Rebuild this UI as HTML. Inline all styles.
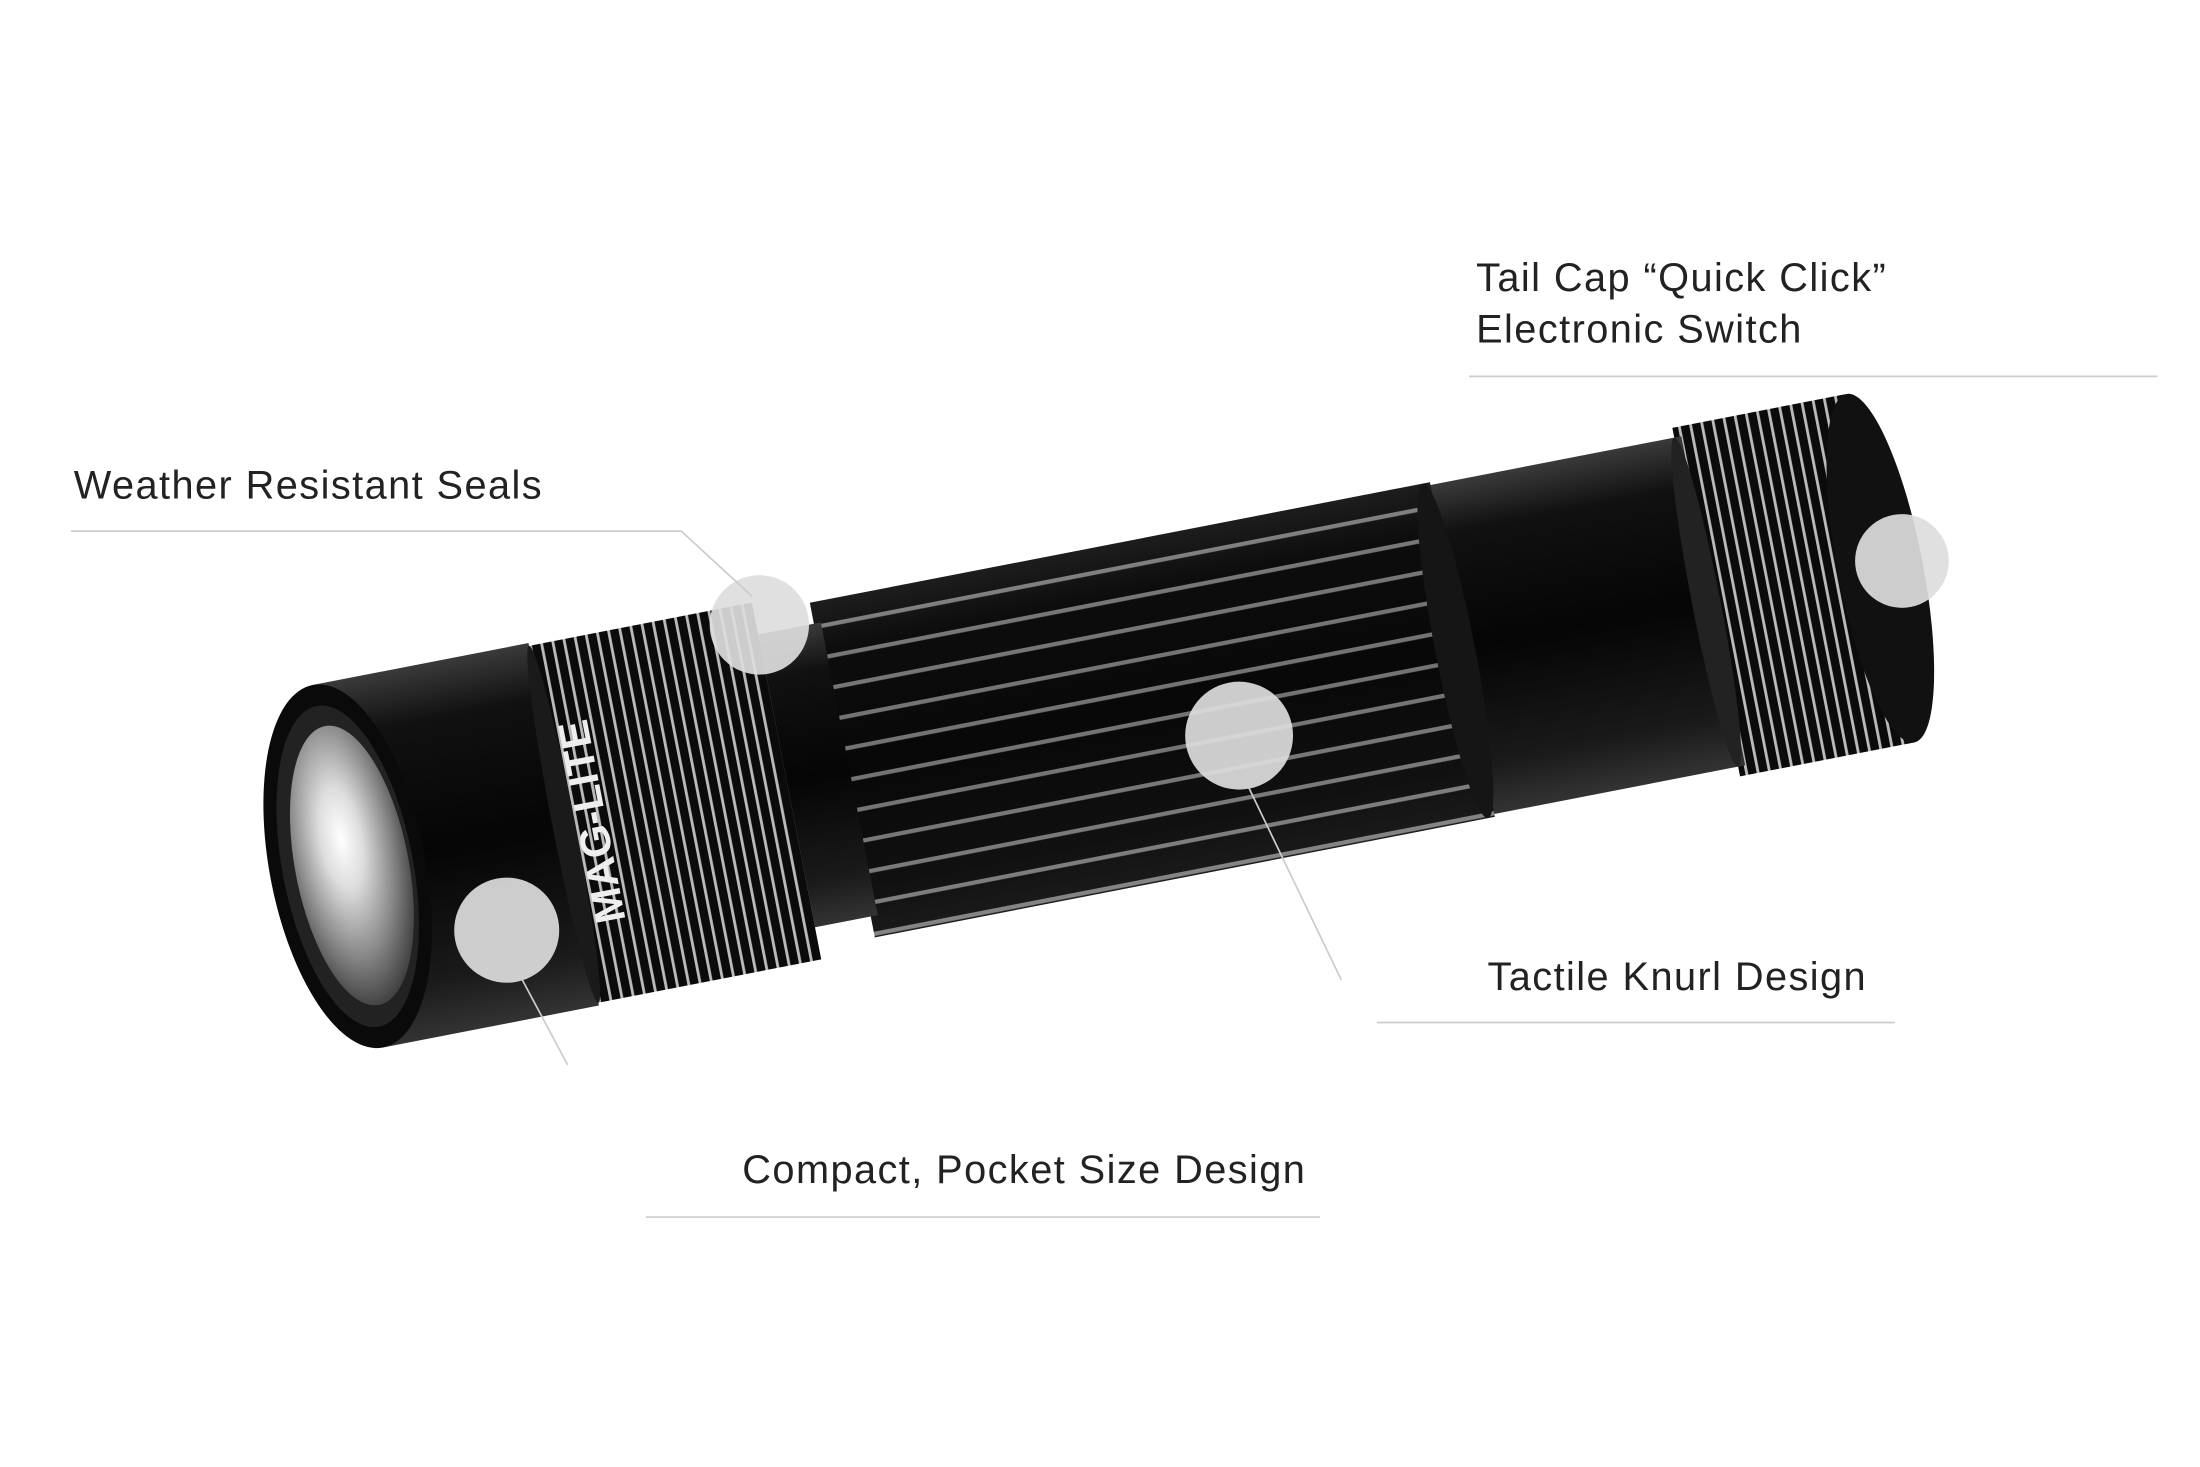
<!DOCTYPE html>
<html><head><meta charset="utf-8"><style>
html,body{margin:0;padding:0;background:#fff;width:2200px;height:1467px;overflow:hidden}
svg{display:block}
text{font-family:"Liberation Sans",sans-serif;fill:#222}
</style></head><body>
<svg width="2200" height="1467" viewBox="0 0 1550 1033" preserveAspectRatio="none" xmlns="http://www.w3.org/2000/svg">
<defs>
<linearGradient id="body" x1="0" y1="0" x2="0" y2="1">
<stop offset="0" stop-color="#3a3a3a"/><stop offset="0.15" stop-color="#111"/><stop offset="0.5" stop-color="#050505"/><stop offset="0.85" stop-color="#1a1a1a"/><stop offset="1" stop-color="#333"/>
</linearGradient>
<radialGradient id="refl" cx="0.45" cy="0.4" r="0.6">
<stop offset="0" stop-color="#fff"/><stop offset="0.3" stop-color="#ddd"/><stop offset="0.7" stop-color="#888"/><stop offset="1" stop-color="#444"/>
</radialGradient>
<pattern id="ring" width="8" height="300" patternUnits="userSpaceOnUse">
<rect width="8" height="300" fill="#0b0b0b"/><rect x="0" width="2" height="300" fill="#bbb"/>
</pattern>
<pattern id="knurl" width="400" height="22" patternUnits="userSpaceOnUse">
<rect width="400" height="22" fill="#0a0a0a"/><rect y="0" width="400" height="3" fill="#bbb"/>
</pattern>
</defs>
<rect width="1550" height="1033" fill="#fff"/>

<g transform="rotate(-11 245 610)">
<rect x="1220" y="485" width="125" height="250" fill="url(#ring)"/>
<ellipse cx="1345" cy="610" rx="30" ry="125" fill="#111"/>
<rect x="1040" y="492" width="185" height="236" fill="url(#body)"/>
<ellipse cx="1220" cy="610" rx="10" ry="118" fill="#222"/>
<rect x="600" y="490" width="445" height="240" fill="url(#knurl)"/>
<rect x="600" y="490" width="445" height="240" fill="url(#body)" opacity="0.4"/>
<ellipse cx="1040" cy="610" rx="14" ry="120" fill="#151515"/>
<rect x="555" y="505" width="50" height="210" fill="url(#body)"/>
<rect x="395" y="482" width="165" height="256" fill="url(#ring)"/>
<rect x="245" y="480" width="155" height="260" fill="url(#body)"/>
<ellipse cx="400" cy="610" rx="8" ry="128" fill="#1a1a1a"/>
<ellipse cx="245" cy="610" rx="55" ry="130" fill="#0a0a0a"/>
<ellipse cx="245" cy="610" rx="46" ry="115" fill="#222"/>
<ellipse cx="248" cy="610" rx="40" ry="100" fill="url(#refl)"/>
<text x="430" y="612" transform="rotate(-90 430 612)" style="fill:#eee;font-weight:bold;font-size:30px" text-anchor="middle">MAG-LITE</text>
</g>

<g fill="#ddd" opacity="0.92">
<circle cx="535" cy="440" r="35"/>
<circle cx="873" cy="518" r="38"/>
<circle cx="357" cy="655" r="37"/>
<circle cx="1340" cy="395" r="33"/>
</g>

<g stroke="#ccc" stroke-width="1.2" fill="none">
<line x1="50" y1="374" x2="480" y2="374"/>
<line x1="480" y1="374" x2="530" y2="420"/>
<line x1="1035" y1="265" x2="1520" y2="265"/>
<line x1="970" y1="720" x2="1335" y2="720"/>
<line x1="880" y1="555" x2="945" y2="690"/>
<line x1="455" y1="857" x2="930" y2="857"/>
<line x1="368" y1="690" x2="400" y2="750"/>
</g>

<g font-size="28" letter-spacing="1">
<text x="1040" y="205">Tail Cap “Quick Click”</text>
<text x="1040" y="241">Electronic Switch</text>
<text x="52" y="351">Weather Resistant Seals</text>
<text x="1048" y="697">Tactile Knurl Design</text>
<text x="523" y="833">Compact, Pocket Size Design</text>
</g>
</svg>
</body></html>
